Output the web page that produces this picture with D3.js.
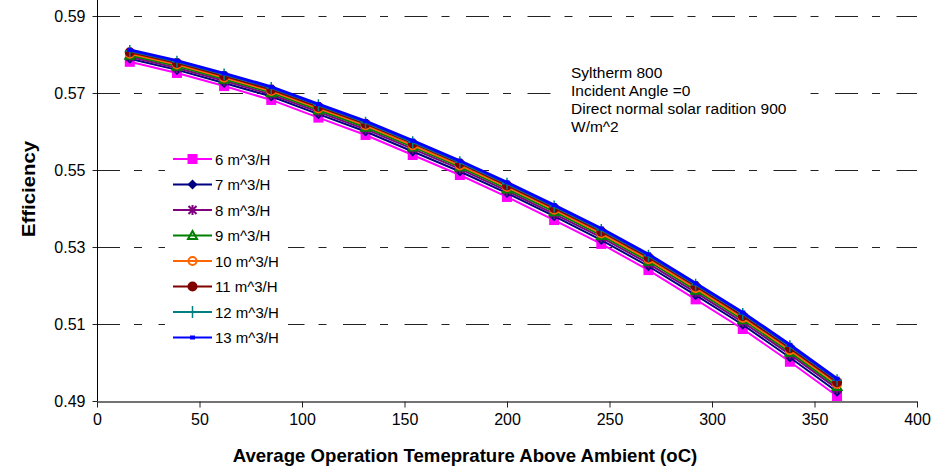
<!DOCTYPE html>
<html>
<head>
<meta charset="utf-8">
<script src="https://cdn.jsdelivr.net/npm/d3@7"></script>
<style>
  html, body { margin: 0; padding: 0; background: #fff; }
  svg { display: block; font-family: "Liberation Sans", Arial, sans-serif; }
</style>
</head>
<body>
<svg id="chart" width="946" height="469"></svg>
<script>
// operating temperature above ambient (oC)
const temps = [16, 39, 62, 85, 108, 131, 154, 177, 200, 223, 246, 269, 292, 315, 338, 361];

// efficiency per flow rate
const eff6  = [0.5781, 0.5752, 0.5718, 0.5682, 0.5636, 0.5591, 0.5539, 0.5487, 0.5430, 0.5370, 0.5308, 0.5240, 0.5164, 0.5087, 0.5002, 0.4913];
const eff7  = [0.5789, 0.5760, 0.5726, 0.5691, 0.5645, 0.5600, 0.5548, 0.5496, 0.5440, 0.5380, 0.5318, 0.5250, 0.5175, 0.5098, 0.5013, 0.4924];
const eff8  = [0.5794, 0.5765, 0.5732, 0.5696, 0.5651, 0.5606, 0.5555, 0.5503, 0.5446, 0.5386, 0.5325, 0.5257, 0.5182, 0.5105, 0.5021, 0.4932];
const eff9  = [0.5798, 0.5770, 0.5736, 0.5701, 0.5656, 0.5611, 0.5560, 0.5508, 0.5451, 0.5392, 0.5330, 0.5263, 0.5188, 0.5111, 0.5027, 0.4938];
const eff10 = [0.5802, 0.5774, 0.5740, 0.5705, 0.5660, 0.5616, 0.5564, 0.5512, 0.5456, 0.5397, 0.5335, 0.5268, 0.5193, 0.5116, 0.5032, 0.4944];
const eff11 = [0.5806, 0.5778, 0.5744, 0.5709, 0.5664, 0.5620, 0.5569, 0.5517, 0.5460, 0.5401, 0.5340, 0.5273, 0.5198, 0.5121, 0.5037, 0.4949];
const eff12 = [0.5809, 0.5781, 0.5748, 0.5713, 0.5668, 0.5623, 0.5572, 0.5520, 0.5464, 0.5405, 0.5344, 0.5277, 0.5202, 0.5126, 0.5042, 0.4954];
const eff13 = [0.5812, 0.5784, 0.5751, 0.5716, 0.5671, 0.5627, 0.5576, 0.5524, 0.5468, 0.5409, 0.5348, 0.5281, 0.5206, 0.5130, 0.5046, 0.4958];

const seriesNames = ["6 m^3/H", "7 m^3/H", "8 m^3/H", "9 m^3/H", "10 m^3/H", "11 m^3/H", "12 m^3/H", "13 m^3/H"];
const seriesValues = [eff6, eff7, eff8, eff9, eff10, eff11, eff12, eff13];

const xTicks = [0, 50, 100, 150, 200, 250, 300, 350, 400];
const yTicks = [0.49, 0.51, 0.53, 0.55, 0.57, 0.59];

const notes = ["Syltherm 800", "Incident Angle =0", "Direct normal solar radition 900", "W/m^2"];

// look of each series (colour, marker)
const styles = [
  { color: "#ff00ff", marker: "square",   size: 10, fill: true },
  { color: "#000080", marker: "diamond",  size: 10, fill: true },
  { color: "#800080", marker: "asterisk", size: 8,  fill: false },
  { color: "#008000", marker: "triangle", size: 9,  fill: false },
  { color: "#ff6600", marker: "circle",   size: 8,  fill: false },
  { color: "#800000", marker: "circle",   size: 10, fill: true },
  { color: "#008080", marker: "plus",     size: 10, fill: false },
  { color: "#0000ff", marker: "small",    size: 5,  fill: true },
];

const svg = d3.select("#chart");

const x = d3.scaleLinear().domain([0, 400]).range([97, 917]);
const y = d3.scaleLinear().domain([0.49, 0.59]).range([401, 16]);

// grid
svg.append("g")
  .selectAll("line")
  .data(yTicks.slice(1))
  .enter().append("line")
  .attr("x1", x(0)).attr("x2", x(400))
  .attr("y1", d => Math.round(y(d)) + 0.5)
  .attr("y2", d => Math.round(y(d)) + 0.5)
  .attr("stroke", "#222")
  .attr("stroke-width", 1)
  .attr("stroke-dasharray", "23,14,8,16.5");

// axes
const xAxis = d3.axisBottom(x).tickValues(xTicks).tickSize(6).tickSizeOuter(0).tickPadding(6);
const yAxis = d3.axisLeft(y).tickValues(yTicks).tickFormat(d3.format(".2f")).tickSize(5).tickSizeOuter(0).tickPadding(7);

const gx = svg.append("g")
  .attr("transform", `translate(0,${Math.round(y(0.49)) + 0.5})`)
  .call(xAxis);
gx.select(".domain").attr("stroke", "#444").attr("stroke-width", 1.5);
gx.selectAll(".tick line").attr("stroke", "#222");
gx.selectAll(".tick text")
  .attr("font-size", 16)
  .attr("font-family", "Liberation Sans, Arial, sans-serif")
  .attr("fill", "#000");

const gy = svg.append("g")
  .attr("transform", `translate(${Math.round(x(0)) + 0.5},0)`)
  .call(yAxis);
gy.select(".domain").remove();
gy.append("line")
  .attr("x1", 0).attr("x2", 0)
  .attr("y1", 0).attr("y2", y(0.49))
  .attr("stroke", "#000");
gy.selectAll(".tick line").attr("stroke", "#222");
gy.selectAll(".tick text")
  .attr("font-size", 16)
  .attr("font-family", "Liberation Sans, Arial, sans-serif")
  .attr("fill", "#000");

// axis titles
svg.append("text")
  .attr("x", 465).attr("y", 462)
  .attr("text-anchor", "middle")
  .attr("font-size", 18.6).attr("font-weight", "bold")
  .text("Average Operation Temeprature Above Ambient (oC)");

svg.append("text")
  .attr("transform", "translate(35,189) rotate(-90)")
  .attr("text-anchor", "middle")
  .attr("font-size", 18.6).attr("font-weight", "bold")
  .attr("textLength", 96).attr("lengthAdjust", "spacingAndGlyphs")
  .text("Efficiency");

// marker drawing
function drawMarker(g, st) {
  const s = st.size;
  if (st.marker === "square") {
    g.append("rect").attr("x", -s / 2).attr("y", -s / 2).attr("width", s).attr("height", s).attr("fill", st.color);
  } else if (st.marker === "small") {
    g.append("rect").attr("x", -s / 2).attr("y", -s / 2 + 0.5).attr("width", s).attr("height", s - 1).attr("fill", st.color);
  } else if (st.marker === "diamond") {
    const h = s / 2;
    g.append("path").attr("d", `M0,${-h}L${h},0L0,${h}L${-h},0Z`).attr("fill", st.color);
  } else if (st.marker === "triangle") {
    const h = s / 2;
    g.append("path").attr("d", `M0,${-h}L${h},${h * 0.8}L${-h},${h * 0.8}Z`)
      .attr("fill", "none").attr("stroke", st.color).attr("stroke-width", 2);
  } else if (st.marker === "circle") {
    g.append("circle").attr("r", s / 2)
      .attr("fill", st.fill ? st.color : "none")
      .attr("stroke", st.color).attr("stroke-width", st.fill ? 0 : 2);
  } else if (st.marker === "asterisk") {
    const h = s / 2;
    g.append("path").attr("d", `M${-h},${-h}L${h},${h}M${-h},${h}L${h},${-h}M0,${-h - 1}L0,${h + 1}`)
      .attr("stroke", st.color).attr("stroke-width", 2).attr("fill", "none");
  } else if (st.marker === "plus") {
    const h = s / 2;
    g.append("path").attr("d", `M${-h},0L${h},0M0,${-h - 1}L0,${h + 1}`)
      .attr("stroke", st.color).attr("stroke-width", 1.5).attr("fill", "none");
  }
}

// white boxes behind legend and notes (they hide the grid)
svg.append("rect").attr("x", 165).attr("y", 145).attr("width", 123).attr("height", 205).attr("fill", "#fff");
svg.append("rect").attr("x", 556).attr("y", 58).attr("width", 244).attr("height", 82).attr("fill", "#fff");

const line = d3.line()
  .x((d, i) => x(temps[i]))
  .y(d => y(d));

seriesValues.forEach((vals, k) => {
  const st = styles[k];
  const g = svg.append("g");
  g.append("path")
    .datum(vals)
    .attr("d", line)
    .attr("fill", "none")
    .attr("stroke", st.color)
    .attr("stroke-width", k === 7 ? 3 : 2);
  g.selectAll(".pt")
    .data(vals)
    .enter().append("g")
    .attr("class", "pt")
    .attr("transform", (d, i) => `translate(${x(temps[i])},${y(d)})`)
    .each(function() { drawMarker(d3.select(this), st); });
});

// legend
const legend = svg.append("g").attr("transform", "translate(173,159)");
seriesNames.forEach((name, k) => {
  const st = styles[k];
  const row = legend.append("g").attr("transform", `translate(0,${k * 25.5})`);
  row.append("line").attr("x1", 0).attr("x2", 39).attr("y1", 0).attr("y2", 0)
    .attr("stroke", st.color).attr("stroke-width", 2);
  drawMarker(row.append("g").attr("transform", "translate(19.5,0)"), st);
  row.append("text").attr("x", 42).attr("y", 5.5)
    .attr("font-size", 15).text(name);
});

// notes
const noteText = svg.append("text").attr("x", 571).attr("font-size", 15.5);
notes.forEach((t, i) => {
  noteText.append("tspan").attr("x", 571).attr("y", 78 + i * 18).text(t);
});
</script>
</body>
</html>
